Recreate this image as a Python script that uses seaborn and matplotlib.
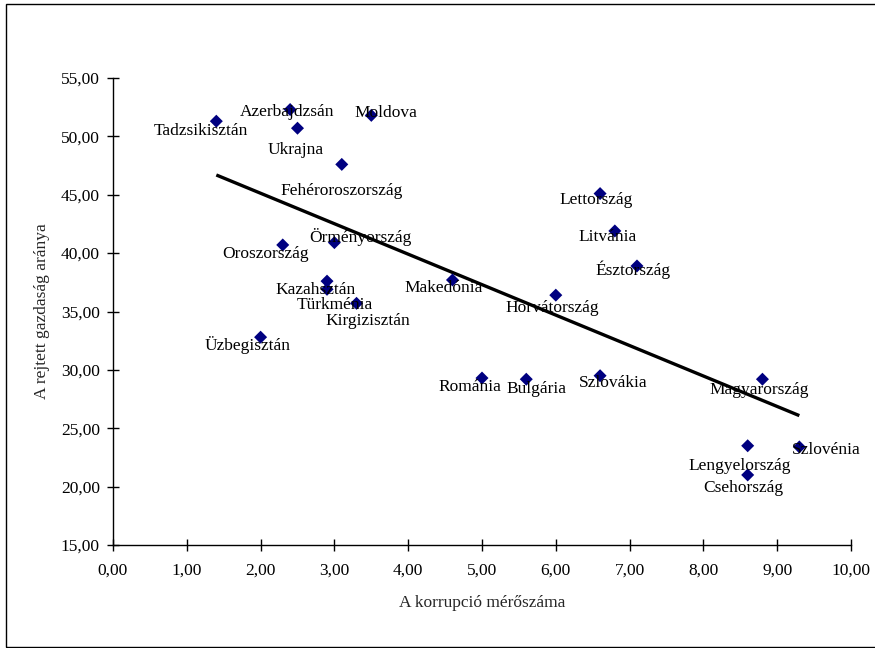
import matplotlib
matplotlib.use("Agg")
import matplotlib.pyplot as plt
from matplotlib.ticker import FuncFormatter, MultipleLocator
from matplotlib.patches import Rectangle
import seaborn as sns
import pandas as pd

countries = [
    "Tadzsikisztán", "Azerbajdzsán", "Ukrajna", "Moldova", "Fehéroroszország",
    "Örményország", "Oroszország", "Kazahsztán", "Türkménia", "Kirgizisztán",
    "Üzbegisztán", "Makedónia", "Horvátország", "Lettország", "Litvánia",
    "Észtország", "Románia", "Bulgária", "Szlovákia", "Magyarország",
    "Lengyelország", "Csehország", "Szlovénia",
]
corruption = [1.4, 2.4, 2.5, 3.5, 3.1, 3.0, 2.3, 2.9, 2.9, 3.3, 2.0, 4.6, 6.0,
              6.6, 6.8, 7.1, 5.0, 5.6, 6.6, 8.8, 8.6, 8.6, 9.3]
shadow_economy = [51.3, 52.3, 50.7, 51.8, 47.6, 40.9, 40.7, 37.6, 36.9, 35.7,
                  32.8, 37.7, 36.4, 45.1, 41.9, 38.9, 29.3, 29.2, 29.5, 29.2,
                  23.5, 21.0, 23.4]
# label offsets in pixels (dx, dy) from each point, dy positive = up
label_dx = [-15, -3, -2, 15, 0, 26, -17, -11, 8, 11, -13, -9, -4, -4, -7, -4,
            -12, 10, 13, -3, -8, -4, 27]
label_dy = [-10, -2, -22, 2, -27, 6, -9, -9, -16, -18, -8, -8, -13, -6, -6,
            -4, -9, -10, -7, -11, -20, -13, -3]

df = pd.DataFrame({"x": corruption, "y": shadow_economy, "name": countries})

sns.set_theme(style="white")
plt.rcParams["font.family"] = ["Liberation Serif", "DejaVu Serif"]

FS = 12.5

fig = plt.figure(figsize=(8.75, 6.48), dpi=100)
ax = fig.add_axes([113 / 875, 1 - 545 / 648, (851 - 113) / 875, (545 - 78) / 648])

sns.regplot(data=df, x="x", y="y", ax=ax, scatter=False, ci=None, truncate=True,
            line_kws={"color": "black", "lw": 2.4, "solid_capstyle": "butt"})
sns.scatterplot(data=df, x="x", y="y", ax=ax, marker="D", s=44, color="#000080",
                edgecolor="none", zorder=3)

for name, x, y, dx, dy in zip(countries, corruption, shadow_economy, label_dx, label_dy):
    ax.annotate(name, (x, y), xytext=(dx, dy), textcoords="offset pixels",
                ha="center", va="center", fontsize=FS, color="black", zorder=4)

ax.set_xlim(0, 10)
ax.set_ylim(15, 55)
ax.xaxis.set_major_locator(MultipleLocator(1))
ax.yaxis.set_major_locator(MultipleLocator(5))
fmt = FuncFormatter(lambda v, p: f"{v:.2f}".replace(".", ","))
ax.xaxis.set_major_formatter(fmt)
ax.yaxis.set_major_formatter(fmt)

for side in ("top", "right"):
    ax.spines[side].set_visible(False)
for side in ("left", "bottom"):
    ax.spines[side].set_color("black")
    ax.spines[side].set_linewidth(1.0)

ax.tick_params(axis="both", direction="inout", length=9, width=1.0, colors="black",
               labelsize=FS, left=True, bottom=True)
ax.tick_params(axis="x", pad=8)
ax.tick_params(axis="y", pad=5)

ax.set_xlabel("A korrupció mérőszáma", fontsize=FS, labelpad=12)
ax.set_ylabel("A rejtett gazdaság aránya", fontsize=FS, labelpad=8)

fig.patches.append(Rectangle((6 / 875, 1 / 648), 1.0, 643 / 648, transform=fig.transFigure,
                             fill=False, edgecolor="black", lw=1.0))

fig.savefig("out.png", dpi=100, facecolor="white")
